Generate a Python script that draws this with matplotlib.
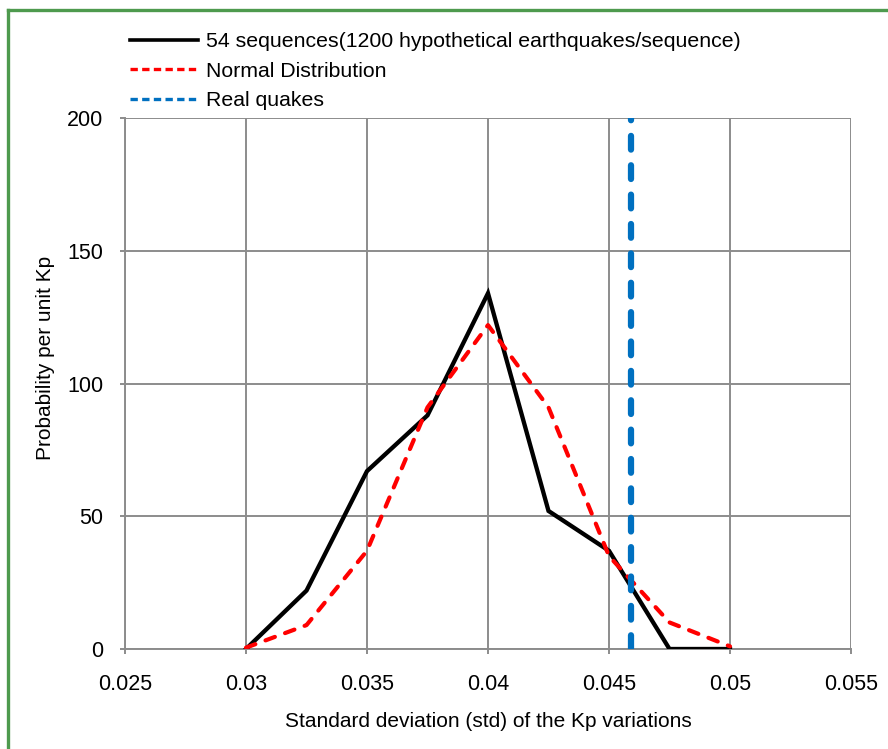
import matplotlib
matplotlib.use("Agg")
import matplotlib.pyplot as plt
from matplotlib.lines import Line2D

plt.rcParams["font.family"] = ["Liberation Sans", "DejaVu Sans"]

# data
std_x = [0.030, 0.0325, 0.035, 0.0375, 0.040, 0.0425, 0.045, 0.0475, 0.050]
sim_prob = [0, 22, 67, 88, 134, 52, 37, 0, 0]
normal_prob = [0.5, 9, 37, 91, 122, 91, 35, 10, 1]
real_quake_std = 0.0459

x_ticks = [0.025, 0.03, 0.035, 0.04, 0.045, 0.05, 0.055]
x_tick_labels = ["0.025", "0.03", "0.035", "0.04", "0.045", "0.05", "0.055"]
y_ticks = [0, 50, 100, 150, 200]

labels = ["54 sequences(1200 hypothetical earthquakes/sequence)",
          "Normal Distribution", "Real quakes"]
black = "black"
red = "#ff0000"
blue = "#0070c0"

W, H = 888, 749
fig = plt.figure(figsize=(W / 100, H / 100), dpi=100)
ax = fig.add_axes([125 / W, 1 - 649 / H, (851 - 125) / W, (649 - 118) / H])

grid_c = "#8c8c8c"
ax.plot(std_x, sim_prob, color=black, lw=3.1, solid_joinstyle="miter", zorder=3)
ax.plot(std_x, normal_prob, color=red, lw=3.0, dashes=(2.4, 2.6),
        dash_capstyle="round", zorder=4)
ax.axvline(real_quake_std, ymin=0, ymax=1, color=blue, lw=4.5,
           dashes=(2.2, 2.5), dash_capstyle="round", zorder=5)

ax.set_xlim(0.025, 0.055)
ax.set_ylim(0, 200)
ax.set_xticks(x_ticks)
ax.set_xticklabels(x_tick_labels)
ax.set_yticks(y_ticks)
ax.grid(True, color=grid_c, lw=1.4)
ax.set_axisbelow(True)
for s in ["top", "right"]:
    ax.spines[s].set_visible(False)
for s in ["left", "bottom"]:
    ax.spines[s].set_color(grid_c)
    ax.spines[s].set_linewidth(1.4)
ax.tick_params(axis="both", colors=grid_c, length=3.6, width=1.4, labelsize=15.5,
               labelcolor="black")
ax.tick_params(axis="x", pad=14.5)
ax.tick_params(axis="y", pad=12)

ax.set_xlabel("Standard deviation (std) of the Kp variations", fontsize=15, labelpad=12)
ax.set_ylabel("Probability per unit Kp", fontsize=15, labelpad=9, y=0.548)

# legend handles drawn thinner, as in the original
handles = [
    Line2D([], [], color=black, lw=2.6),
    Line2D([], [], color=red, lw=2.4, dashes=(2.2, 1.3)),
    Line2D([], [], color=blue, lw=2.4, dashes=(2.2, 1.3)),
]
fig.legend(handles, labels, loc="upper left", bbox_to_anchor=(126 / W, 1 - 28 / H),
           frameon=False, fontsize=15.3, handlelength=3.2, handletextpad=0.38,
           labelspacing=0.5, borderaxespad=0, borderpad=0.2)

# green frame (only top and left visible in the crop)
frame_c = "#4e9a4e"
fig.add_artist(Line2D([8 / W, 8 / W], [0, 1 - 10 / H], color=frame_c, lw=2.4,
                      transform=fig.transFigure))
fig.add_artist(Line2D([8 / W, 1], [1 - 10 / H, 1 - 10 / H], color=frame_c, lw=2.4,
                      transform=fig.transFigure))

fig.savefig("out.png", dpi=100)
